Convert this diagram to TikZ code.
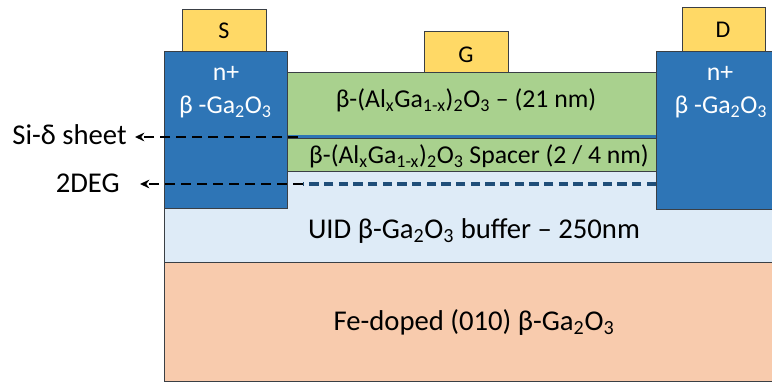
\documentclass[tikz,border=0pt]{standalone}
\usepackage{fontspec}
\setmainfont{Carlito}
\usetikzlibrary{arrows.meta}
\definecolor{cyel}{HTML}{FFD966}
\definecolor{cblue}{HTML}{2E75B6}
\definecolor{cgreen}{HTML}{A9D18E}
\definecolor{cuid}{HTML}{DEEBF7}
\definecolor{csub}{HTML}{F8CBAD}
\definecolor{cdeg}{HTML}{1F4E79}
\definecolor{cedge}{HTML}{3A3F45}
\newcommand{\sbs}[1]{\textsubscript{#1}}
\begin{document}
\begin{tikzpicture}[x=0.75pt,y=-0.75pt,
  layer/.style={draw=cedge, line width=0.9pt, rectangle, inner sep=0pt, anchor=north west},
  big/.style={font=\fontsize{21.5}{24}\selectfont, inner sep=0pt, anchor=base},
  mid/.style={font=\fontsize{19.3}{22}\selectfont, inner sep=0pt, anchor=base},
  small/.style={font=\fontsize{18}{20}\selectfont, inner sep=0pt, anchor=base},
  pointer/.style={black, line width=2pt, dash pattern=on 7.5pt off 4.5pt, -{Stealth[length=7pt,width=6.5pt]}}
]
\useasboundingbox (0,0) rectangle (772,383);
% layers
\node[layer, fill=csub, minimum width=608*0.75pt, minimum height=119*0.75pt] (sub) at (164,262) {};
\node[layer, fill=cuid, minimum width=608*0.75pt, minimum height=91*0.75pt] (uid) at (164,171) {};
\node[layer, fill=cgreen, minimum width=369*0.75pt, minimum height=33*0.75pt] (spacer) at (287,138) {};
\node[layer, fill=cgreen, minimum width=369*0.75pt, minimum height=66*0.75pt] (barrier) at (287,72) {};
\coordinate (dl) at (287,136.5);
\coordinate (dr) at (656,136.5);
\draw[cblue, line width=2.8pt] (dl) -- (dr);
% contacts
\node[layer, fill=cyel, minimum width=84*0.75pt, minimum height=42*0.75pt] (S) at (182,9) {};
\node[layer, fill=cyel, minimum width=84*0.75pt, minimum height=41*0.75pt] (G) at (424,31) {};
\node[layer, fill=cyel, minimum width=83*0.75pt, minimum height=44*0.75pt] (D) at (682,7) {};
% n+ blocks
\node[layer, fill=cblue, minimum width=123*0.75pt, minimum height=157*0.75pt] (nl) at (164,51) {};
\node[layer, fill=cblue, minimum width=117*0.75pt, minimum height=158*0.75pt] (nr) at (656,51) {};
% texts
\node[small] (St) at (224,38) {S};
\node[small] (Gt) at (466,62) {G};
\node[small] (Dt) at (723,37) {D};
\node[mid, text=white] (nlt1) at (226,80) {n+};
\node[mid, text=white] (nlt2) at (225.5,113) {β -Ga\sbs{2}O\sbs{3}};
\node[mid, text=white] (nrt1) at (720,80) {n+};
\node[mid, text=white] (nrt2) at (721,113) {β -Ga\sbs{2}O\sbs{3}};
\node[mid] (bt) at (466,107) {β-(Al\sbs{x}Ga\sbs{1-x})\sbs{2}O\sbs{3} – (21 nm)};
\node[mid] (spt) at (479,163) {β-(Al\sbs{x}Ga\sbs{1-x})\sbs{2}O\sbs{3} Spacer (2 / 4 nm)};
\node[big] (uidt) at (474,238) {UID β-Ga\sbs{2}O\sbs{3} buffer – 250nm};
\node[big] (subt) at (474,330) {Fe-doped (010) β-Ga\sbs{2}O\sbs{3}};
\node[big, anchor=base east] (sdlab) at (127,144) {Si-δ sheet};
\node[big, anchor=base east] (deglab) at (120,192) {2DEG};
% pointers
\coordinate (sdend) at (298,137);
\coordinate (degmid) at (303,184);
\coordinate (degend) at (656,184);
\coordinate (sdtip) at (135,137);
\coordinate (degtip) at (140,184);
\draw[cdeg, line width=2.4pt, dash pattern=on 7pt off 4pt] (degend) -- (degmid);
\draw[pointer] (sdend) -- (sdtip);
\draw[pointer] (degmid) -- (degtip);
\end{tikzpicture}
\end{document}
